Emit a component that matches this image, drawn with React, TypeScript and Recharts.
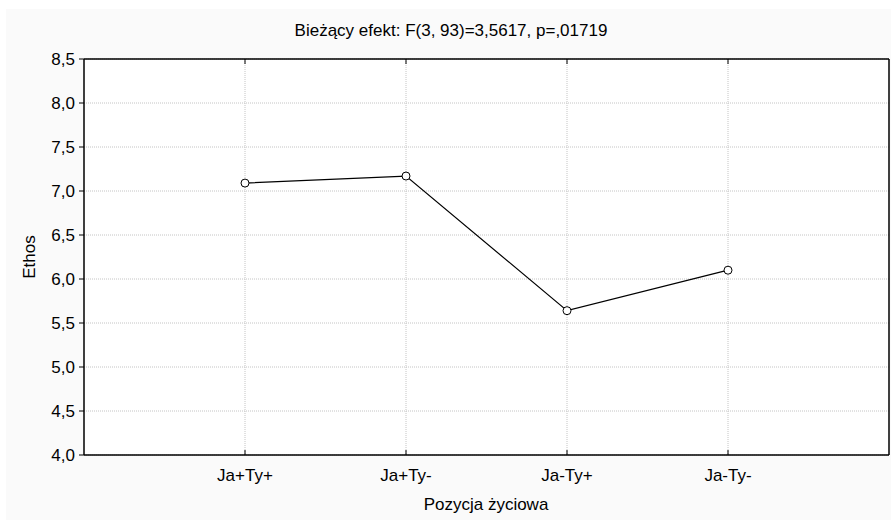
import React from 'react';
import { LineChart, Line, XAxis, YAxis, CartesianGrid, Customized } from 'recharts';

const categories = ['Ja+Ty+', 'Ja+Ty-', 'Ja-Ty+', 'Ja-Ty-'];
const ethos = [7.09, 7.17, 5.64, 6.1];
const yTicks = [4.0, 4.5, 5.0, 5.5, 6.0, 6.5, 7.0, 7.5, 8.0, 8.5];
const xTicks = [1, 2, 3, 4];

const title = 'Bieżący efekt: F(3, 93)=3,5617, p=,01719';
const xTitle = 'Pozycja życiowa';
const yTitle = 'Ethos';

const FONT = '"Liberation Sans", Arial, sans-serif';
const FS = 17;

const data = categories.map((c, i) => ({ x: i + 1, name: c, value: ethos[i] }));

const fmtY = (v: number) => v.toFixed(1).replace('.', ',');

const BottomTick = (props: any) => {
  const { x, y, payload } = props;
  return (
    <g>
      <line x1={x} y1={y} x2={x} y2={y - 5} stroke="#000" strokeWidth={1} />
      <text x={x} y={y + 26} textAnchor="middle" fontSize={FS} fontFamily={FONT} fill="#000">
        {categories[payload.value - 1]}
      </text>
    </g>
  );
};

const TopTick = (props: any) => {
  const { x, y } = props;
  return <line x1={x} y1={y} x2={x} y2={y + 5} stroke="#000" strokeWidth={1} />;
};

const RightTick = (props: any) => {
  const { x, y } = props;
  return <line x1={x} y1={y} x2={x - 5} y2={y} stroke="#000" strokeWidth={1} />;
};

const Titles = () => (
  <g fontFamily={FONT} fill="#000" fontSize={FS}>
    <text x={451} y={36} textAnchor="middle">{title}</text>
    <text x={486} y={510} textAnchor="middle">{xTitle}</text>
    <text x={35} y={257} textAnchor="middle" transform="rotate(-90 35 257)">{yTitle}</text>
  </g>
);

export default function App() {
  return (
    <div style={{ position: 'absolute', left: 0, top: 0, width: 891, height: 520, background: '#fff' }}>
      <div style={{ position: 'absolute', left: 6, top: 9, width: 885, height: 511, background: '#fafafa' }} />
      <div style={{ position: 'absolute', left: 0, top: 0 }}>
        <LineChart width={891} height={520} data={data} margin={{ top: 58, right: 1, bottom: 0, left: 0 }}>
          <CartesianGrid
            fill="#fff"
            stroke="#c4c4c4"
            strokeDasharray="1 1"
            horizontalValues={yTicks}
            verticalValues={xTicks}
          />
          <XAxis
            dataKey="x"
            type="number"
            domain={[0, 5]}
            ticks={xTicks}
            height={65}
            tickSize={0}
            tickMargin={0}
            tickLine={false}
            axisLine={{ stroke: '#000', strokeWidth: 1.5 }}
            tick={<BottomTick />}
            interval={0}
          />
          <XAxis
            xAxisId="top"
            orientation="top"
            dataKey="x"
            type="number"
            domain={[0, 5]}
            ticks={xTicks}
            height={1}
            tickSize={0}
            tickMargin={0}
            tickLine={false}
            axisLine={{ stroke: '#000', strokeWidth: 1.5 }}
            tick={<TopTick />}
            interval={0}
          />
          <YAxis
            type="number"
            domain={[4, 8.5]}
            ticks={yTicks}
            width={84}
            tickSize={5}
            tickMargin={4}
            tickLine={{ stroke: '#000' }}
            axisLine={{ stroke: '#000', strokeWidth: 1.5 }}
            tickFormatter={fmtY}
            tick={{ fill: '#000', fontSize: FS, fontFamily: FONT }}
            interval={0}
          />
          <YAxis
            yAxisId="r"
            orientation="right"
            type="number"
            domain={[4, 8.5]}
            ticks={yTicks}
            width={1}
            tickSize={0}
            tickMargin={0}
            tickLine={false}
            axisLine={{ stroke: '#000', strokeWidth: 1.5 }}
            tick={<RightTick />}
            interval={0}
          />
          <Line
            dataKey="value"
            stroke="#000"
            strokeWidth={1.2}
            dot={{ r: 4, fill: '#fff', stroke: '#000', strokeWidth: 1 }}
            isAnimationActive={false}
          />
          <Customized component={Titles} />
        </LineChart>
      </div>
    </div>
  );
}
